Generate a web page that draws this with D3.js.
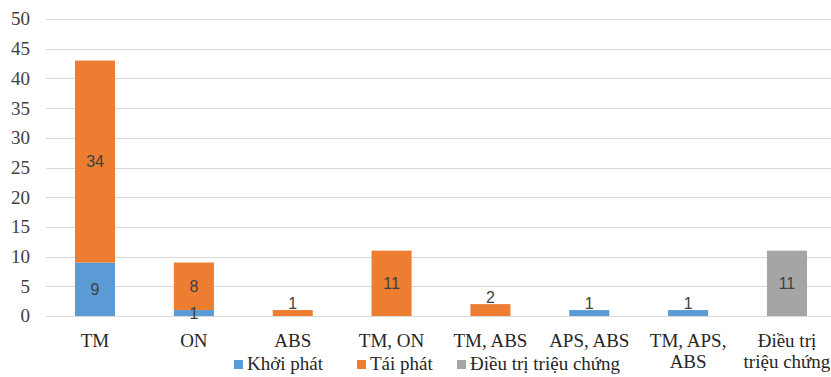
<!DOCTYPE html>
<html>
<head>
<meta charset="utf-8">
<script src="https://cdn.jsdelivr.net/npm/d3@7"></script>
<style>
  html, body { margin: 0; padding: 0; background: #fff; }
  svg { display: block; }
  svg text { font-family: "Liberation Serif", serif; }
  svg text.value { font-family: "Liberation Sans", sans-serif; }
</style>
</head>
<body>
<svg id="chart" width="831" height="377"></svg>
<script>
// Treatment groups along the x axis
const categories = ["TM", "ON", "ABS", "TM, ON", "TM, ABS", "APS, ABS", "TM, APS, ABS", "Điều trị triệu chứng"];
// Stacked series
const seriesNames = ["Khởi phát", "Tái phát", "Điều trị triệu chứng"];
const khoiPhat = [9, 1, 0, 0, 0, 1, 1, 0];
const taiPhat = [34, 8, 1, 11, 2, 0, 0, 0];
const dieuTri = [0, 0, 0, 0, 0, 0, 0, 11];
const yTicks = [0, 5, 10, 15, 20, 25, 30, 35, 40, 45, 50];

const colors = ["#5B9BD5", "#ED7D31", "#A5A5A5"];

const svg = d3.select("#chart");
const margin = { left: 45.6, right: 836.4, top: 19, bottom: 316 };

const rows = categories.map((c, i) => ({
  cat: c,
  "Khởi phát": khoiPhat[i],
  "Tái phát": taiPhat[i],
  "Điều trị triệu chứng": dieuTri[i]
}));

const x = d3.scaleBand()
  .domain(categories)
  .range([margin.left, margin.right])
  .paddingInner(0.595)
  .paddingOuter(0.2975);

const y = d3.scaleLinear().domain([0, 50]).range([margin.bottom, margin.top]);

// Text measurement for wrapping category labels
const measureCtx = document.createElement("canvas").getContext("2d");
measureCtx.font = '19px "Liberation Serif"';
function wrapWords(label, maxWidth) {
  const words = label.split(" ");
  const lines = [];
  let line = [];
  words.forEach(w => {
    const trial = line.concat(w).join(" ");
    if (line.length && measureCtx.measureText(trial).width > maxWidth) {
      lines.push(line.join(" "));
      line = [w];
    } else {
      line.push(w);
    }
  });
  if (line.length) lines.push(line.join(" "));
  return lines;
}

// Horizontal gridlines
svg.append("g")
  .selectAll("line")
  .data(yTicks)
  .join("line")
  .attr("x1", 46)
  .attr("x2", 831)
  .attr("y1", d => Math.round(y(d)) + 0.5)
  .attr("y2", d => Math.round(y(d)) + 0.5)
  .attr("stroke", "#D9D9D9")
  .attr("stroke-width", 1);

// Y axis tick labels
svg.append("g")
  .selectAll("text")
  .data(yTicks)
  .join("text")
  .attr("x", 30)
  .attr("y", d => y(d))
  .attr("dy", "0.34em")
  .attr("text-anchor", "end")
  .attr("font-size", 19)
  .attr("fill", "#404040")
  .text(d => d);

// Stacked bars
const stacked = d3.stack().keys(seriesNames)(rows);

svg.append("g")
  .selectAll("g")
  .data(stacked)
  .join("g")
  .attr("fill", (d, i) => colors[i])
  .selectAll("rect")
  .data(d => d.filter(p => p[1] - p[0] > 0))
  .join("rect")
  .attr("x", p => x(p.data.cat))
  .attr("width", x.bandwidth())
  .attr("y", p => y(p[1]))
  .attr("height", p => y(p[0]) - y(p[1]));

// Data labels: centred in the segment, or just above the stack top when the segment is too thin
const labels = [];
stacked.forEach(layer => {
  layer.forEach((p, ci) => {
    const v = p[1] - p[0];
    if (v <= 0) return;
    const total = khoiPhat[ci] + taiPhat[ci] + dieuTri[ci];
    labels.push({ v, p, cat: p.data.cat, above: p[1] === total && v < 3 });
  });
});

svg.append("g")
  .selectAll("text")
  .data(labels)
  .join("text")
  .attr("class", "value")
  .attr("x", d => x(d.cat) + x.bandwidth() / 2)
  .attr("y", d => d.above ? y(d.p[1]) - 1 : (y(d.p[0]) + y(d.p[1])) / 2)
  .attr("dy", d => d.above ? 0 : "0.36em")
  .attr("text-anchor", "middle")
  .attr("font-size", 16)
  .attr("fill", "#404040")
  .text(d => d.v);

// Category labels, wrapped to fit the band
const catText = svg.append("g")
  .selectAll("text")
  .data(categories)
  .join("text")
  .attr("x", d => x(d) + x.bandwidth() / 2)
  .attr("text-anchor", "middle")
  .attr("font-size", 19)
  .attr("fill", "#262626");

catText.selectAll("tspan")
  .data(d => wrapWords(d, 90).map(line => ({ line, cat: d })))
  .join("tspan")
  .attr("x", d => x(d.cat) + x.bandwidth() / 2)
  .attr("y", (d, i) => margin.bottom + 31 + i * 21)
  .text(d => d.line);

// Legend
const legendX = [234, 357, 457];
const lg = svg.append("g")
  .selectAll("g")
  .data(seriesNames)
  .join("g")
  .attr("transform", (d, i) => `translate(${legendX[i]},0)`);
lg.append("rect")
  .attr("y", 360)
  .attr("width", 9)
  .attr("height", 9)
  .attr("fill", (d, i) => colors[i]);
lg.append("text")
  .attr("x", 13)
  .attr("y", 370)
  .attr("font-size", 19)
  .attr("fill", "#262626")
  .text(d => d);
</script>
</body>
</html>
